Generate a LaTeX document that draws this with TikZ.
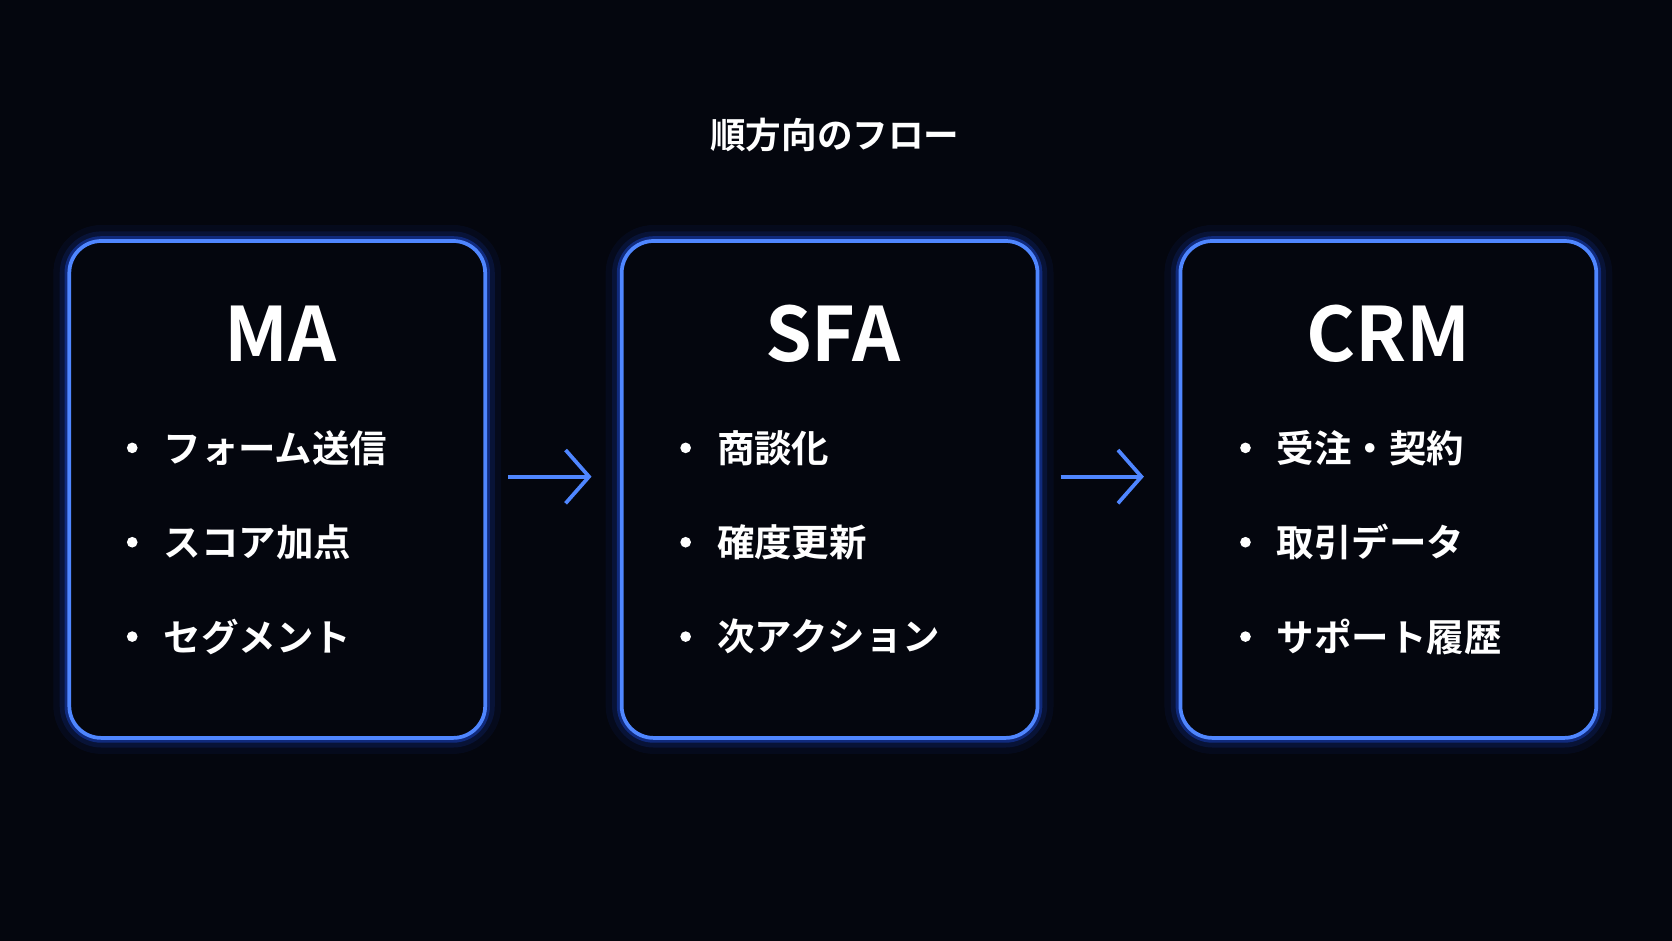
\documentclass[tikz,border=0pt]{standalone}
\usepackage{fontspec}
\setmainfont{Noto Sans CJK JP}[BoldFont={Noto Sans CJK JP Bold}]
\usetikzlibrary{positioning,arrows.meta}
\definecolor{bgdark}{HTML}{04060E}
\definecolor{neon}{HTML}{1F55FF}
\definecolor{neonlight}{HTML}{4F86FF}
\tikzset{
  glowbox/.style={rectangle, rounded corners=3mm, minimum width=39mm, minimum height=46.6mm,
    draw=neonlight, line width=0.35mm, fill=bgdark,
    preaction={draw=neon, line width=3mm, draw opacity=0.06},
    preaction={draw=neon, line width=1.8mm, draw opacity=0.12},
    preaction={draw=neon, line width=0.9mm, draw opacity=0.35}},
  headtext/.style={font=\bfseries\fontsize{20}{24}\selectfont, text=white},
  itemtext/.style={font=\bfseries\fontsize{10}{12}\selectfont, text=white, anchor=west},
  glowarrow/.style={-{Straight Barb[length=2.2mm,width=5mm]}, line width=0.35mm, draw=neonlight}
}
\begin{document}
\begin{tikzpicture}[x=0.1mm,y=-0.1mm]
    \fill[bgdark] (0,0) rectangle (1568,882);
    \useasboundingbox (0,0) rectangle (1568,882);
    % Title
    \node[font=\bfseries\fontsize{9.5}{11}\selectfont, text=white] (title) at (783,127) {順方向のフロー};
    % Boxes
    \node[glowbox] (ma) at (260,459) {};
    \node[glowbox] (sfa) at (778,459) {};
    \node[glowbox] (crm) at (1302,459) {};
    % Headers
    \node[headtext] (maHead) at (263,313) {MA};
    \node[headtext] (sfaHead) at (781,313) {SFA};
    \node[headtext] (crmHead) at (1302,313) {CRM};
    % Items
    \foreach \bx/\list in {124/{フォーム送信,スコア加点,セグメント}, 643/{商談化,確度更新,次アクション}, 1168/{受注・契約,取引データ,サポート履歴}}{
      \foreach \txt [count=\i] in \list {
        \pgfmathsetmacro{\yy}{420+(\i-1)*88.5}
        \fill[white] (\bx,\yy) circle (5);
        \node[itemtext] at (\bx+17,\yy) {\txt};
      }
    }
    % Arrows
    \draw[glowarrow] (ma.east) ++(20,-12) coordinate (a1) -- ++(78,0);
    \draw[glowarrow] (sfa.east) ++(20,-12) coordinate (a2) -- ++(78,0);
\end{tikzpicture}
\end{document}
